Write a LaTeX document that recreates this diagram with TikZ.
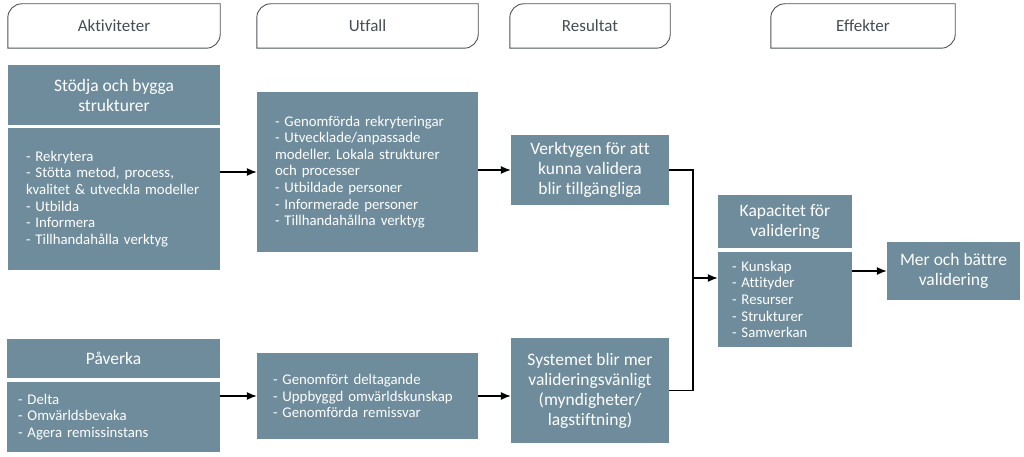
\documentclass[tikz,border=0pt]{standalone}
\usepackage{fontspec}
\setmainfont[Ligatures=NoCommon]{Carlito}
\usepackage{xcolor}
\usepackage{tikz}
\usetikzlibrary{arrows.meta,positioning,calc}
\definecolor{logicslate}{HTML}{6E8C9C}
\definecolor{logicline}{HTML}{4D5358}
\definecolor{logictext}{HTML}{454D54}
\frenchspacing

\begin{document}
\begin{tikzpicture}[
  x=1pt, y=1pt,
  tab/.style={minimum height=44pt, inner sep=0pt, text=logictext,
              font=\fontsize{17}{20}\selectfont},
  tabline/.style={draw=logicline, line width=0.9pt},
  head/.style={fill=logicslate, text=white, align=center, inner sep=0pt,
               font=\fontsize{17.5}{20}\selectfont},
  body/.style={fill=logicslate, text=white, align=left, inner sep=0pt,
               font=\fontsize{14.8}{16.6}\selectfont},
  arrow/.style={-{Latex[length=10pt,width=8pt]}, line width=1.2pt, draw=black}
]
\useasboundingbox (0,0) rectangle (1024,-457);

% column headings
\node[tab, minimum width=212pt] (akt) at (114,-26) {Aktiviteter};
\node[tab, minimum width=221pt] (utf) at (367.5,-26) {Utfall};
\node[tab, minimum width=160pt] (res) at (590,-26) {Resultat};
\node[tab, minimum width=184pt] (eff) at (863,-26) {Effekter};
\foreach \t in {akt,utf,res,eff}
  \draw[tabline] (\t.south west) -- ([yshift=-14pt]\t.north west)
    arc[start angle=180, end angle=90, radius=14pt] -- (\t.north east)
    -- ([yshift=14pt]\t.south east)
    arc[start angle=0, end angle=-90, radius=14pt] -- cycle;

% upper row
\node[head, minimum width=212pt, minimum height=60pt] (stodhead) at (114,-95)
  {Stödja och bygga\\strukturer};
\node[body, minimum width=212pt, minimum height=142pt, text width=176pt] (stodbody) at (114,-199)
  {- Rekrytera\\- Stötta metod, process,\\kvalitet \& utveckla modeller\\- Utbilda\\- Informera\\- Tillhandahålla verktyg};
\node[body, minimum width=221pt, minimum height=160pt, text width=185pt] (utf1) at (367.5,-172)
  {- Genomförda rekryteringar\\- Utvecklade/anpassade\\modeller. Lokala strukturer\\och processer\\- Utbildade personer\\- Informerade personer\\- Tillhandahållna verktyg};
\node[head, minimum width=158pt, minimum height=70pt] (res1) at (590,-170)
  {Verktygen för att\\kunna validera\\blir tillgängliga};

% lower row
\node[head, minimum width=213pt, minimum height=39pt] (pavhead) at (113.5,-358.5) {Påverka};
\node[body, minimum width=213pt, minimum height=70pt, text width=191pt] (pavbody) at (113.5,-417)
  {- Delta\\- Omvärldsbevaka\\- Agera remissinstans};
\node[body, minimum width=221pt, minimum height=86pt, text width=189pt] (utf2) at (367.5,-396)
  {- Genomfört deltagande\\- Uppbyggd omvärldskunskap\\- Genomförda remissvar};
\node[head, minimum width=158pt, minimum height=105pt] (res2) at (590,-390.5)
  {Systemet blir mer\\valideringsvänligt\\(myndigheter/\\lagstiftning)};

% effects
\node[head, minimum width=134pt, minimum height=53pt] (kaphead) at (785,-221.5)
  {Kapacitet för\\validering};
\node[body, minimum width=134pt, minimum height=95pt, text width=106pt] (kapbody) at (785,-299.5)
  {- Kunskap\\- Attityder\\- Resurser\\- Strukturer\\- Samverkan};
\node[head, minimum width=133pt, minimum height=58pt] (mer) at (953.5,-271)
  {Mer och bättre\\validering};

\draw[arrow] (stodbody.east |- utf1.west) -- (utf1.west);
\draw[arrow] (utf1.east |- res1.west) -- (res1.west);
\draw[arrow] (pavbody.east |- utf2.west) -- (utf2.west);
\draw[arrow] (utf2.east) -- (utf2.east -| res2.west);

\coordinate (join) at (693,-278);
\draw[line width=1.2pt] (res1.east) -| (join) |- (res2.east);
\draw[arrow] (join) -- (join -| kapbody.west);
\draw[arrow] (kapbody.east |- mer.west) -- (mer.west);
\end{tikzpicture}
\end{document}
